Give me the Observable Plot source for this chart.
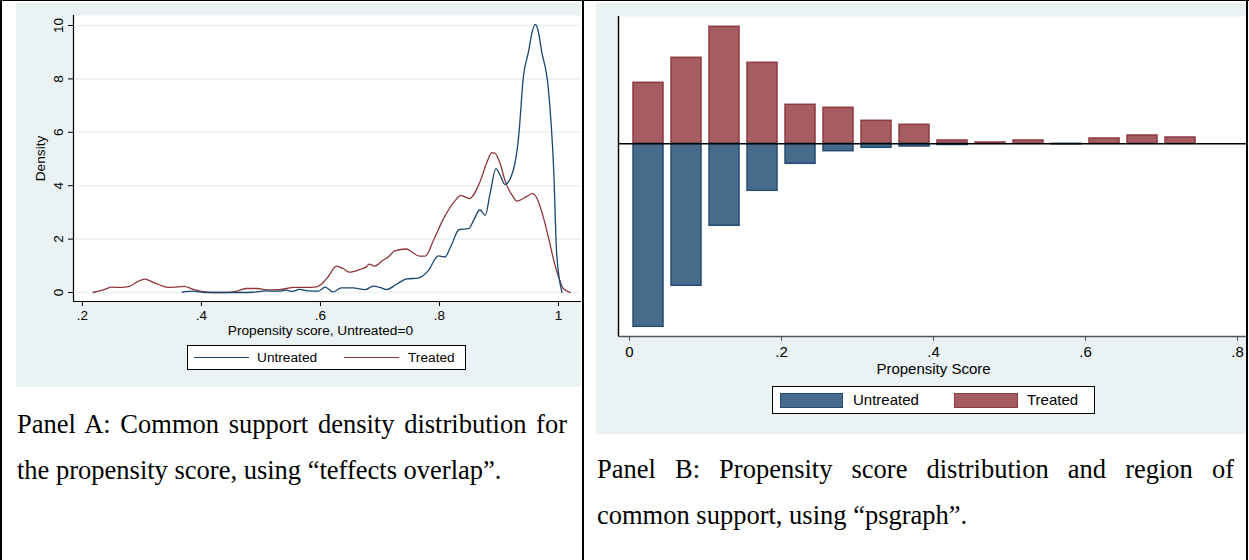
<!DOCTYPE html>
<html>
<head>
<meta charset="utf-8">
<script src="https://cdn.jsdelivr.net/npm/d3@7"></script>
<script src="https://cdn.jsdelivr.net/npm/@observablehq/plot@0.6"></script>
<style>
  body { margin:0; width:1249px; height:560px; position:relative; background:#fff; overflow:hidden; font-family:"Liberation Sans", Arial, sans-serif; }
  .line { position:absolute; background:#000; }
  .panel { position:absolute; background:#eaf2f3; }
  .panel svg { position:absolute; left:0; top:0; }
  .legend { position:absolute; background:#fff; border:1px solid #000; box-sizing:border-box; }
  .legend span { position:absolute; white-space:nowrap; color:#000; }
  .legend i { position:absolute; display:block; }
  .cap { position:absolute; font-family:"Liberation Serif", "Times New Roman", serif; color:#000; }
  .cap div { white-space:nowrap; }
  .cap .j { text-align:justify; text-align-last:justify; white-space:normal; }
</style>
</head>
<body>
<div class="line" style="left:0;top:0;width:1249px;height:1px"></div>
<div class="line" style="left:0;top:0;width:2px;height:560px"></div>
<div class="line" style="left:582px;top:0;width:2px;height:560px"></div>
<div class="line" style="left:1246px;top:0;width:2px;height:560px"></div>

<div id="pa" class="panel" style="left:16px;top:3px;width:565px;height:384px">
  <div class="legend" style="left:171px;top:342px;width:279px;height:25px;font-size:13.7px">
    <i style="left:6px;top:11px;width:55px;height:0;border-top:1.3px solid #1a476f"></i>
    <span style="left:69px;top:4px">Untreated</span>
    <i style="left:156px;top:11px;width:55px;height:0;border-top:1.3px solid #90353b"></i>
    <span style="left:220px;top:4px">Treated</span>
  </div>
</div>
<div id="pb" class="panel" style="left:596px;top:3px;width:650px;height:431px">
  <div class="legend" style="left:176px;top:383px;width:323px;height:28px;font-size:15px">
    <i style="left:7px;top:6px;width:63px;height:15px;background:#486a8b;border:1.5px solid #244d73;box-sizing:border-box"></i>
    <span style="left:80px;top:4px">Untreated</span>
    <i style="left:181px;top:6px;width:64px;height:15px;background:#a55d61;border:1.5px solid #8e3a42;box-sizing:border-box"></i>
    <span style="left:254px;top:4px">Treated</span>
  </div>
</div>

<div class="cap" style="left:17px;top:401px;width:550px;font-size:26.5px;line-height:46px">
  <div class="j">Panel A: Common support density distribution for</div>
  <div>the propensity score, using “teffects overlap”.</div>
</div>
<div class="cap" style="left:597px;top:446px;width:637px;font-size:26.5px;line-height:46px">
  <div class="j">Panel B: Propensity score distribution and region of</div>
  <div>common support, using “psgraph”.</div>
</div>

<script>
// ---------- Panel A data (kernel density curves) ----------
const treatedX = [0.218,0.234,0.249,0.265,0.279,0.293,0.305,0.318,0.329,0.343,0.354,0.371,0.385,0.402,0.419,0.441,0.458,0.475,0.494,0.509,0.531,0.556,0.575,0.593,0.602,0.613,0.627,0.638,0.649,0.666,0.677,0.682,0.691,0.705,0.714,0.725,0.744,0.756,0.767,0.776,0.790,0.806,0.826,0.836,0.850,0.868,0.879,0.888,0.893,0.902,0.910,0.924,0.930,0.947,0.956,0.964,0.972,0.983,0.992,1.000,1.008,1.020];
const treatedY = [0,0.09,0.20,0.19,0.23,0.41,0.50,0.39,0.29,0.19,0.20,0.23,0.13,0.03,0,0,0.04,0.15,0.15,0.10,0.11,0.19,0.19,0.21,0.32,0.59,0.99,0.90,0.76,0.86,0.96,1.06,0.99,1.21,1.33,1.56,1.63,1.48,1.36,1.36,1.96,2.73,3.43,3.64,3.52,4.14,4.83,5.24,5.22,4.83,4.20,3.58,3.42,3.60,3.70,3.52,3.02,2.08,1.21,0.59,0.15,0];
const untreatedX = [0.368,0.385,0.408,0.441,0.464,0.486,0.509,0.531,0.542,0.553,0.565,0.576,0.596,0.608,0.621,0.635,0.655,0.675,0.689,0.700,0.711,0.728,0.745,0.764,0.781,0.798,0.809,0.820,0.833,0.849,0.858,0.868,0.877,0.885,0.895,0.902,0.910,0.924,0.933,0.941,0.950,0.955,0.961,0.965,0.972,0.983,0.992,0.997,1.006];
const untreatedY = [0.01,0.05,0,0,0,0.01,0.06,0.05,0.09,0.04,0.12,0.07,0.05,0.20,0.02,0.17,0.17,0.11,0.24,0.19,0.11,0.31,0.51,0.54,0.81,1.37,1.33,1.77,2.36,2.39,2.73,3.10,2.89,3.70,4.64,4.39,4.05,4.58,5.82,8.07,9.06,9.69,10.04,9.88,9.00,7.63,4.58,1.46,0];
const aXTicks = [0.2,0.4,0.6,0.8,1];
const aYTicks = [0,2,4,6,8,10];
const seriesNames = ["Untreated","Treated"];

// ---------- Panel B data (psgraph histogram, bins of 0.05) ----------
const binStart = [0,0.05,0.10,0.15,0.20,0.25,0.30,0.35,0.40,0.45,0.50,0.55,0.60,0.65,0.70];
const treatedFreq = [61,86,117,81,39,36,23,19,3.3,1.3,3.3,0,5.3,8.3,6.3];
const untreatedFreq = [183,142,82,47,20,7.4,4,2.7,1.2,0,0,0.5,0,0,0];
const bXTicks = [0,0.2,0.4,0.6,0.8];
const binWidth = 0.05;

const fmt = d => d === 0 ? "0" : d === 1 ? "1" : String(d).replace(/^0/, "");
const navy = "#1a476f", maroon = "#90353b";

// ---------- Panel A ----------
const lineData = [
  ...treatedX.map((x,i) => ({x, y: treatedY[i], s: seriesNames[1]})),
  ...untreatedX.map((x,i) => ({x, y: untreatedY[i], s: seriesNames[0]}))
];
const axMin = 0.185, axMax = 1.0387, ayMin = -0.337, ayMax = 10.375;
const plotA = Plot.plot({
  width: 565, height: 335,
  marginLeft: 57, marginTop: 12, marginRight: 0, marginBottom: 37,
  style: {background: "transparent", fontFamily: "Liberation Sans, Arial, sans-serif", fontSize: "13px", color: "#000"},
  x: {domain: [axMin, axMax], axis: null},
  y: {domain: [ayMin, ayMax], axis: null},
  marks: [
    Plot.frame({fill: "white", stroke: null}),
    Plot.gridY(aYTicks, {stroke: "#eaf2f3", strokeOpacity: 1, strokeWidth: 1.6}),
    Plot.line(lineData, {x: "x", y: "y", z: "s", stroke: d => d.s === "Treated" ? maroon : navy, strokeWidth: 1.3, curve: "monotone-x"}),
    Plot.ruleX([axMin], {stroke: "#000", strokeWidth: 1.2}),
    Plot.ruleY([ayMin], {stroke: "#000", strokeWidth: 1.2}),
    Plot.axisX(aXTicks, {tickSize: 5, tickPadding: 4, tickFormat: fmt, stroke: "#000", fontSize: 13.5, label: null}),
    Plot.axisY(aYTicks, {tickSize: 5, text: null, stroke: "#000", label: null}),
    Plot.text(aYTicks, {y: d => d, text: d => String(d), frameAnchor: "left", dx: -15, rotate: -90, textAnchor: "middle", lineAnchor: "middle", fontSize: 13.5}),
    Plot.text(["Density"], {frameAnchor: "left", dx: -33, rotate: -90, text: d => d, textAnchor: "middle", lineAnchor: "middle", fontSize: 13.7}),
    Plot.text(["Propensity score, Untreated=0"], {x: () => 0.6, frameAnchor: "bottom", dy: 29, text: d => d, lineAnchor: "middle", fontSize: 13.7})
  ]
});
document.getElementById("pa").prepend(plotA);

// ---------- Panel B ----------
const barsT = binStart.map((b,i) => ({x1: b, x2: b + binWidth, v: treatedFreq[i]})).filter(d => d.v > 0);
const barsU = binStart.map((b,i) => ({x1: b, x2: b + binWidth, v: -untreatedFreq[i]})).filter(d => d.v < 0);
const bxMin = -0.0145, bxMax = 0.8118, byMin = -192.7, byMax = 127.3;
const plotB = Plot.plot({
  width: 650, height: 380,
  marginLeft: 22, marginTop: 13, marginRight: 0, marginBottom: 47,
  style: {background: "transparent", fontFamily: "Liberation Sans, Arial, sans-serif", fontSize: "15px", color: "#000"},
  x: {domain: [bxMin, bxMax], axis: null},
  y: {domain: [byMin, byMax], axis: null},
  marks: [
    Plot.frame({fill: "white", stroke: null}),
    Plot.rectY(barsT, {x1: "x1", x2: "x2", y1: 0, y2: "v", fill: "#a55d61", stroke: "#8e3a42", strokeWidth: 1.5, insetLeft: 4, insetRight: 4}),
    Plot.rectY(barsU, {x1: "x1", x2: "x2", y1: 0, y2: "v", fill: "#486a8b", stroke: "#244d73", strokeWidth: 1.5, insetLeft: 4, insetRight: 4}),
    Plot.ruleY([0], {stroke: "#000", strokeWidth: 1.4}),
    Plot.ruleX([bxMin], {stroke: "#000", strokeWidth: 1.4}),
    Plot.ruleY([byMin], {stroke: "#555", strokeWidth: 1.4}),
    Plot.axisX(bXTicks, {tickSize: 5, tickPadding: 5, tickFormat: fmt, stroke: "#555", fontSize: 15, label: null}),
    Plot.text(["Propensity Score"], {x: () => 0.4, frameAnchor: "bottom", dy: 33, text: d => d, lineAnchor: "middle", fontSize: 15})
  ]
});
document.getElementById("pb").prepend(plotB);
</script>
</body>
</html>
